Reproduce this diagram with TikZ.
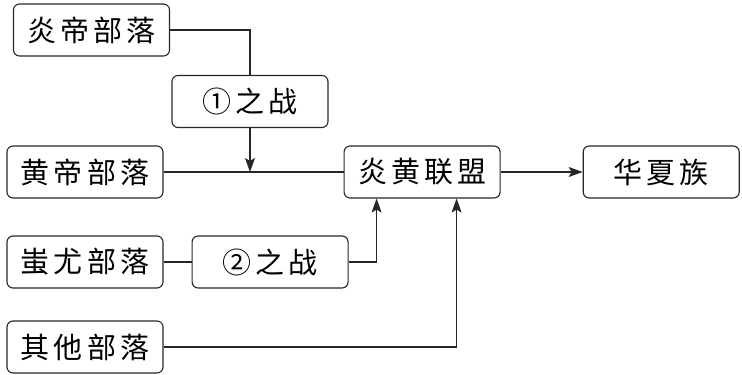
\documentclass[tikz,border=0pt]{standalone}
\usepackage{fontspec}
\newfontfamily\cjk[LetterSpace=14]{Noto Sans CJK SC}
\usepackage{tikz}
\usetikzlibrary{arrows.meta,positioning}
\tikzset{
  tribe/.style={rectangle, rounded corners=6pt, draw=black!85, line width=1.1pt, minimum width=156pt, minimum height=52pt, align=center, inner sep=0pt, font=\cjk\fontsize{29}{31}\selectfont},
  link/.style={line width=1.1pt, draw=black!85},
  flow/.style={link, -{Stealth[length=14pt,width=10pt,inset=3pt]}},
}

\begin{document}
\begin{tikzpicture}[x=1pt,y=1pt]
  \useasboundingbox (0,0) rectangle (742,375);
  \node[tribe] (yan) at (91.5,345) {炎帝部落};
  \node[tribe] (zhan1) at (250,273.5) {①之战};
  \node[tribe] (huang) at (85,203) {黄帝部落};
  \node[tribe,right=180pt of huang] (yanhuang) {炎黄联盟};
  \node[tribe,right=82pt of yanhuang] (huaxia) {华夏族};
  \node[tribe] (chiyou) at (85,113) {蚩尤部落};
  \node[tribe,right=28pt of chiyou] (zhan2) {②之战};
  \node[tribe] (qita) at (85,28) {其他部落};
  \coordinate (meet) at (zhan1 |- huang);
  \coordinate (in2) at ([xshift=-45.5pt]yanhuang.south);
  \coordinate (in3) at ([xshift=34.5pt]yanhuang.south);
  \draw[link] (yan.east) -| (zhan1.north);
  \draw[flow] (zhan1.south) -- (meet);
  \draw[link] (huang) -- (yanhuang);
  \draw[link] (chiyou) -- (zhan2);
  \draw[flow] (zhan2.east) -| (in2);
  \draw[flow] (qita.east) -| (in3);
  \draw[flow] (yanhuang) -- (huaxia);
\end{tikzpicture}
\end{document}
